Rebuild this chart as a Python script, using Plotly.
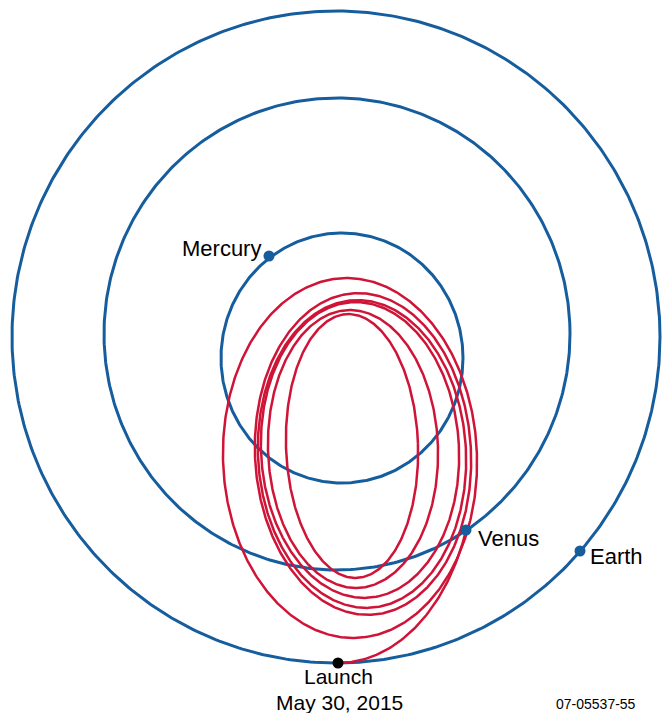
import numpy as np
import plotly.graph_objects as go

W, H = 666, 713

# Planet orbits (pixel space): name, centre x, centre y, radius x, radius y
orbit_names = ["Mercury", "Venus", "Earth"]
orbit_cx = [342, 337, 336]
orbit_cy = [358, 334, 337]
orbit_rx = [121, 233, 324]
orbit_ry = [125, 236, 326]

# Planet positions and labels
planet_x = [269, 466, 580]
planet_y = [256, 530, 551]
label_text = ["Mercury", "Venus", "Earth"]

# Spacecraft loops: centre, semi-axes, tilt (deg)
loop_cx = [352, 353, 360, 362, 363, 350]
loop_cy = [446, 449, 450, 454, 454, 458]
loop_a = [66, 85, 99, 104, 108, 127]
loop_b = [132, 139, 148, 154, 161, 180]
loop_tilt = [-2, -2, -3, -3, -3, -2]

# Launch transfer arc (part of ellipse tangent at launch)
launch_x, launch_y = 338, 663
transfer_a, transfer_b = 136, 200
transfer_end_deg = 19.6  # angle (deg) where arc meets Venus

launch_text = ["Launch", "May 30, 2015"]
code_text = "07-05537-55"

BLUE = "#165d9e"
RED = "#cf1437"

fig = go.Figure()

t = np.linspace(0, 2 * np.pi, 500)
for cx, cy, rx, ry in zip(orbit_cx, orbit_cy, orbit_rx, orbit_ry):
    fig.add_trace(go.Scatter(x=cx + rx * np.cos(t), y=cy + ry * np.sin(t), mode="lines",
                             line=dict(color=BLUE, width=3), hoverinfo="skip"))

for cx, cy, a, b, th in zip(loop_cx, loop_cy, loop_a, loop_b, loop_tilt):
    r = np.deg2rad(th)
    x = cx + a * np.cos(t) * np.cos(r) - b * np.sin(t) * np.sin(r)
    y = cy + a * np.cos(t) * np.sin(r) + b * np.sin(t) * np.cos(r)
    fig.add_trace(go.Scatter(x=x, y=y, mode="lines", line=dict(color=RED, width=2.5),
                             hoverinfo="skip"))

# launch arc: from bottom (90deg) to the Venus point
ts = np.linspace(np.pi / 2, np.deg2rad(transfer_end_deg), 100)
tcx, tcy = launch_x, launch_y - transfer_b
fig.add_trace(go.Scatter(x=tcx + transfer_a * np.cos(ts), y=tcy + transfer_b * np.sin(ts),
                         mode="lines", line=dict(color=RED, width=2.5), hoverinfo="skip"))

fig.add_trace(go.Scatter(x=planet_x, y=planet_y, mode="markers",
                         marker=dict(color=BLUE, size=11), hoverinfo="skip"))
fig.add_trace(go.Scatter(x=[launch_x], y=[launch_y], mode="markers",
                         marker=dict(color="black", size=11), hoverinfo="skip"))

FONT = "Liberation Sans, Arial, sans-serif"
FS = 22
fig.add_annotation(x=263, y=248, text=label_text[0], showarrow=False, xanchor="right",
                   yanchor="middle", font=dict(family=FONT, size=FS, color="black"))
fig.add_annotation(x=476, y=538, text=label_text[1], showarrow=False, xanchor="left",
                   yanchor="middle", font=dict(family=FONT, size=FS, color="black"))
fig.add_annotation(x=588, y=556, text=label_text[2], showarrow=False, xanchor="left",
                   yanchor="middle", font=dict(family=FONT, size=FS, color="black"))
fig.add_annotation(x=338, y=689, text=launch_text[0], showarrow=False, xanchor="center",
                   yanchor="bottom", borderpad=0,
                   font=dict(family=FONT, size=21, color="black"))
fig.add_annotation(x=339, y=690, text=launch_text[1], showarrow=False, xanchor="center",
                   yanchor="top", borderpad=0,
                   font=dict(family=FONT, size=21, color="black"))
fig.add_annotation(x=596, y=704, text=code_text, showarrow=False, xanchor="center",
                   yanchor="middle", font=dict(family=FONT, size=14, color="black"))

fig.update_layout(
    width=W, height=H, margin=dict(l=0, r=0, t=0, b=0),
    paper_bgcolor="white", plot_bgcolor="white", showlegend=False,
    xaxis=dict(range=[0, W], visible=False, fixedrange=True),
    yaxis=dict(range=[H, 0], visible=False, fixedrange=True),
)
fig.write_html("out.html", config={"displayModeBar": False})
